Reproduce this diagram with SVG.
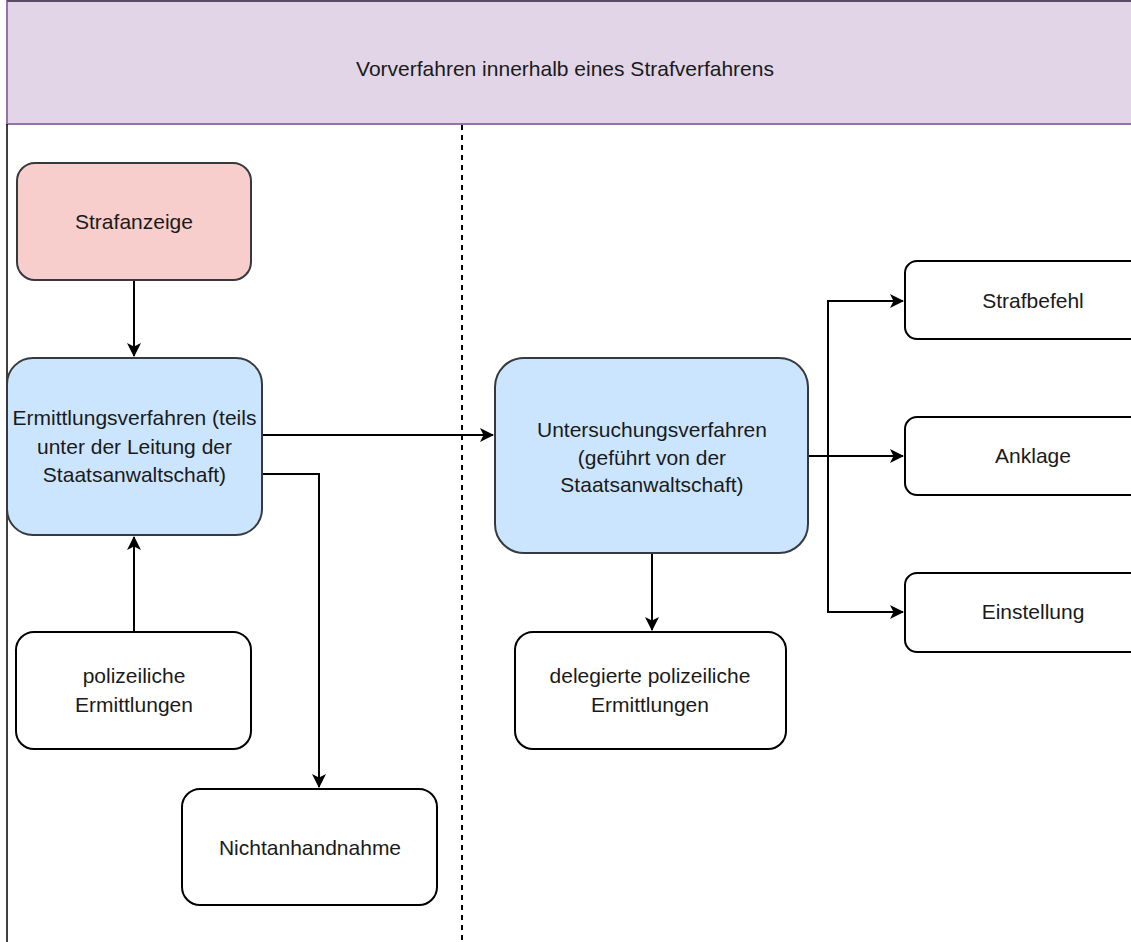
<svg xmlns="http://www.w3.org/2000/svg" width="1131" height="942" viewBox="0 0 1131 942">
  <style>
    .t { font-family: "Liberation Sans", Arial, sans-serif; font-size: 21px; fill: #1a1a1a; text-anchor: middle; }
    .box { fill: #ffffff; stroke: #000000; stroke-width: 2; }
    .blue { fill: #cce5ff; stroke: #36393d; stroke-width: 2; }
    .red { fill: #f8cecc; stroke: #36393d; stroke-width: 2; }
    .edge { fill: none; stroke: #000000; stroke-width: 2; marker-end: url(#arr); }
  </style>
  <defs>
    <marker id="arr" viewBox="0 0 14 14" refX="13" refY="7" markerWidth="14" markerHeight="14" markerUnits="userSpaceOnUse" orient="auto">
      <path d="M0,0 L14,7 L0,14 L3.5,7 Z" fill="#000000"/>
    </marker>
  </defs>
  <rect x="0" y="0" width="1131" height="942" fill="#ffffff"/>

  <g id="pool">
    <rect x="7" y="1" width="1140" height="123" fill="#e1d5e7" stroke="#9673a6" stroke-width="2"/>
    <line x1="7" y1="124" x2="7" y2="942" stroke="#000000" stroke-width="1.5"/>
    <line x1="7" y1="1" x2="1131" y2="1" stroke="#5a4a63" stroke-width="2"/>
    <text class="t" x="565" y="76">Vorverfahren innerhalb eines Strafverfahrens</text>
  </g>

  <g id="divider">
    <line x1="462" y1="125" x2="462" y2="942" stroke="#000000" stroke-width="2" stroke-dasharray="5 5"/>
  </g>

  <g id="connectors">
    <path class="edge" d="M134,280 L134,356"/>
    <path class="edge" d="M134,632 L134,537"/>
    <path class="edge" d="M262,435 L493,435"/>
    <path class="edge" d="M262,474 L319,474 L319,787"/>
    <path class="edge" d="M652,553 L652,630"/>
    <path class="edge" d="M808,456 L903,456"/>
    <path class="edge" d="M828,456 L828,301 L903,301"/>
    <path class="edge" d="M828,456 L828,612 L903,612"/>
  </g>

  <g id="strafanzeige">
    <rect class="red" x="17" y="163" width="234" height="117" rx="18"/>
    <text class="t" x="134" y="229">Strafanzeige</text>
  </g>

  <g id="ermittlungsverfahren">
    <rect class="blue" x="7" y="358" width="255" height="177" rx="26"/>
    <text class="t" x="134.5" y="425">Ermittlungsverfahren (teils</text>
    <text class="t" x="134.5" y="454">unter der Leitung der</text>
    <text class="t" x="134.5" y="482">Staatsanwaltschaft)</text>
  </g>

  <g id="polizeiliche">
    <rect class="box" x="16" y="632" width="235" height="117" rx="18"/>
    <text class="t" x="134" y="683">polizeiliche</text>
    <text class="t" x="134" y="712">Ermittlungen</text>
  </g>

  <g id="nichtanhandnahme">
    <rect class="box" x="182" y="789" width="255" height="116" rx="18"/>
    <text class="t" x="310" y="855">Nichtanhandnahme</text>
  </g>

  <g id="untersuchungsverfahren">
    <rect class="blue" x="495" y="358" width="313" height="195" rx="29"/>
    <text class="t" x="652" y="437">Untersuchungsverfahren</text>
    <text class="t" x="652" y="465">(geführt von der</text>
    <text class="t" x="652" y="492">Staatsanwaltschaft)</text>
  </g>

  <g id="delegierte">
    <rect class="box" x="515" y="632" width="271" height="117" rx="18"/>
    <text class="t" x="650" y="683">delegierte polizeiliche</text>
    <text class="t" x="650" y="712">Ermittlungen</text>
  </g>

  <g id="strafbefehl">
    <rect class="box" x="905" y="261" width="256" height="78" rx="12"/>
    <text class="t" x="1033" y="308">Strafbefehl</text>
  </g>

  <g id="anklage">
    <rect class="box" x="905" y="417" width="256" height="78" rx="12"/>
    <text class="t" x="1033" y="463">Anklage</text>
  </g>

  <g id="einstellung">
    <rect class="box" x="905" y="573" width="256" height="79" rx="12"/>
    <text class="t" x="1033" y="619">Einstellung</text>
  </g>
</svg>
